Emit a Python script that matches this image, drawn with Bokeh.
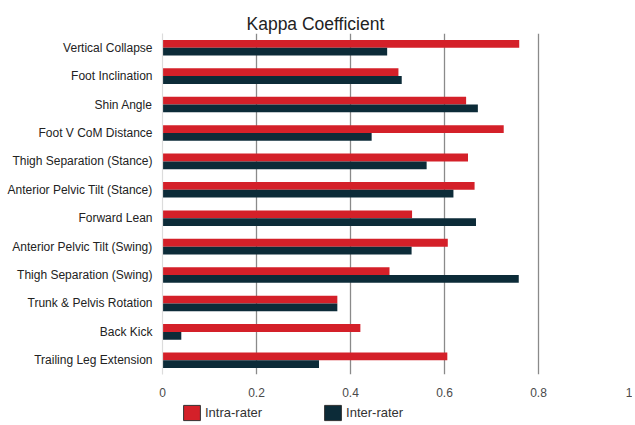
from bokeh.plotting import figure
from bokeh.layouts import column
from bokeh.models import (FactorRange, Range1d, FixedTicker, Legend, LegendItem,
                          ColumnDataSource)
from bokeh.transform import dodge
from bokeh.embed import file_html
from bokeh.resources import INLINE

categories = [
    "Vertical Collapse",
    "Foot Inclination",
    "Shin Angle",
    "Foot V CoM Distance",
    "Thigh Separation (Stance)",
    "Anterior Pelvic Tilt (Stance)",
    "Forward Lean",
    "Anterior Pelvic Tilt (Swing)",
    "Thigh Separation (Swing)",
    "Trunk & Pelvis Rotation",
    "Back Kick",
    "Trailing Leg Extension",
]
intra_rater = [0.759, 0.502, 0.646, 0.726, 0.650, 0.664, 0.531, 0.607, 0.483, 0.372, 0.421, 0.606]
inter_rater = [0.478, 0.509, 0.671, 0.445, 0.562, 0.619, 0.667, 0.530, 0.758, 0.372, 0.040, 0.333]
x_ticks = [0, 0.2, 0.4, 0.6, 0.8, 1]
x_tick_labels = ["0", "0.2", "0.4", "0.6", "0.8", "1"]
grid_ticks = [0.2, 0.4, 0.6, 0.8]
series_names = ["Intra-rater", "Inter-rater"]
title_text = "Kappa Coefficient"

RED = "#D42029"
DARK = "#0C2B38"
FONT = "Liberation Sans"
W = 632

src = ColumnDataSource(dict(cat=categories, intra=intra_rater, inter=inter_rater))

p = figure(width=W, height=402,
           y_range=FactorRange(factors=categories[::-1]),
           x_range=Range1d(0, 1),
           output_backend="svg", toolbar_location=None,
           min_border_left=162, min_border_right=0,
           min_border_top=33, min_border_bottom=28)
p.outline_line_color = None
p.background_fill_color = "white"

# title
p.title.text = title_text
p.title.align = "left"
p.title.offset = 84
p.title.standoff = 0
p.title.text_font = FONT
p.title.text_font_size = "17.5px"
p.title.text_font_style = "normal"
p.title.text_color = "#222222"

bar_h = 0.275
p.hbar(y=dodge("cat", bar_h / 2, range=p.y_range), left=0, right="intra",
       height=bar_h, source=src, fill_color=RED, line_color=None)
p.hbar(y=dodge("cat", -bar_h / 2, range=p.y_range), left=0, right="inter",
       height=bar_h, source=src, fill_color=DARK, line_color=None)

# grid
p.ygrid.grid_line_color = None
p.xgrid.ticker = FixedTicker(ticks=grid_ticks)
p.xgrid.grid_line_color = "#8a8a8a"
p.xgrid.grid_line_width = 1.3

# x axis
p.xaxis.ticker = FixedTicker(ticks=x_ticks)
p.xaxis.major_label_overrides = dict(zip(x_ticks, x_tick_labels))
p.xaxis.axis_line_color = None
p.xaxis.major_tick_line_color = None
p.xaxis.minor_tick_line_color = None
p.xaxis.major_tick_out = 0
p.xaxis.major_tick_in = 0
p.xaxis.major_label_standoff = 13
p.xaxis.major_label_text_font = FONT
p.xaxis.major_label_text_font_size = "12px"
p.xaxis.major_label_text_color = "#4a4a4a"

# y axis
p.yaxis.axis_line_color = "#dcdcdc"
p.yaxis.axis_line_width = 1.2
p.yaxis.major_tick_line_color = None
p.yaxis.minor_tick_line_color = None
p.yaxis.major_tick_out = 0
p.yaxis.major_tick_in = 0
p.yaxis.major_label_standoff = 10
p.yaxis.major_label_text_font = FONT
p.yaxis.major_label_text_font_size = "12px"
p.yaxis.major_label_text_color = "#222222"

# legend strip below the chart (frame aligned with the chart's frame)
lg = figure(width=W, height=21, x_range=Range1d(0, 1), y_range=Range1d(0, 1),
            output_backend="svg", toolbar_location=None,
            x_axis_type=None, y_axis_type=None,
            min_border_left=0, min_border_right=0, min_border_top=0, min_border_bottom=0)
lg.outline_line_color = None
lg.xgrid.visible = False
lg.ygrid.visible = False
nan = float("nan")
d1 = lg.rect(x=[nan], y=[nan], width=0.1, height=0.1, fill_color=RED, line_color="#333333")
d2 = lg.rect(x=[nan], y=[nan], width=0.1, height=0.1, fill_color=DARK, line_color="#333333")
legend = Legend(items=[LegendItem(label=series_names[0], renderers=[d1]),
                       LegendItem(label=series_names[1], renderers=[d2])],
                location=(19, 1), orientation="horizontal",
                padding=0, margin=0, spacing=60,
                glyph_width=21, glyph_height=19, label_height=19, label_standoff=3,
                border_line_color=None, background_fill_alpha=0,
                label_text_font=FONT, label_text_font_size="13px",
                label_text_color="#333333")
lg.add_layout(legend)

layout = column(p, lg, spacing=0)
open("out.html", "w").write(file_html(layout, INLINE))
